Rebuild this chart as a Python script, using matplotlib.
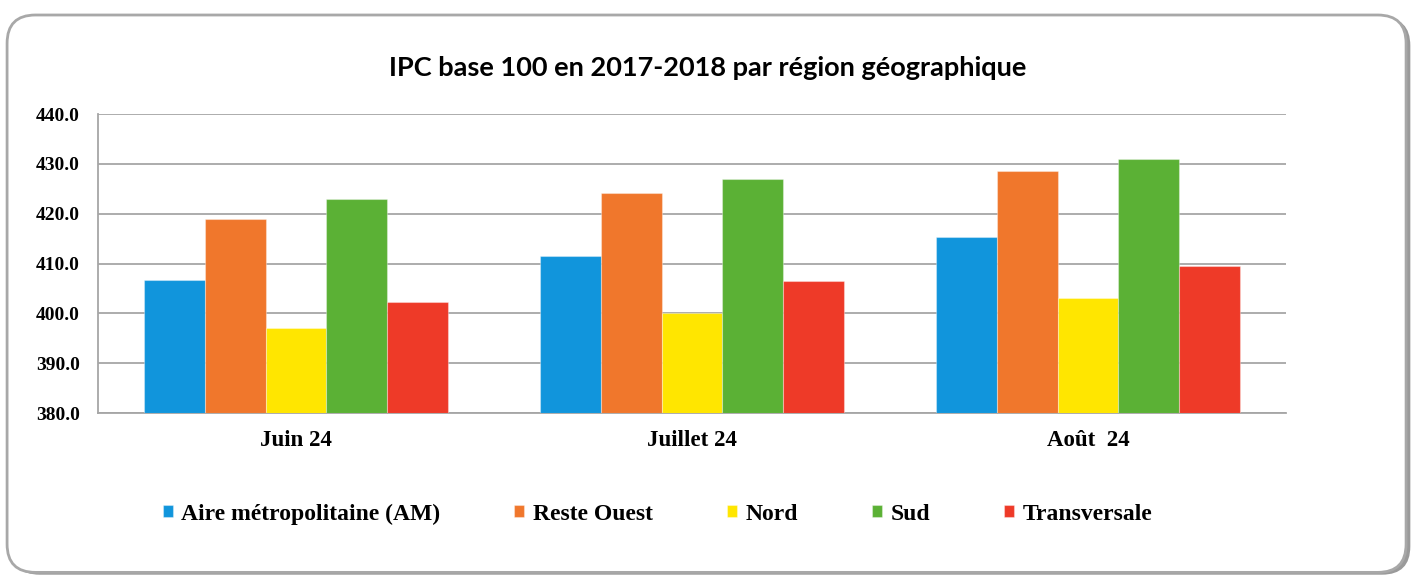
import matplotlib
matplotlib.use("Agg")
import matplotlib.pyplot as plt
import numpy as np
from matplotlib.patches import FancyBboxPatch

categories = ["Juin 24", "Juillet 24", "Août  24"]
series_names = ["Aire métropolitaine (AM)", "Reste Ouest", "Nord", "Sud", "Transversale"]
aire_metro = [406.7, 411.5, 415.3]
reste_ouest = [419.0, 424.2, 428.5]
nord = [397.0, 400.0, 403.0]
sud = [422.9, 427.0, 430.9]
transversale = [402.2, 406.4, 409.5]
yticks = [380.0, 390.0, 400.0, 410.0, 420.0, 430.0, 440.0]

series = [aire_metro, reste_ouest, nord, sud, transversale]
colors = ["#1195DC", "#F0772C", "#FFE600", "#5BB135", "#EE3A28"]

fig = plt.figure(figsize=(14.16, 5.77), dpi=100)

# rounded frame with shadow
shadow = FancyBboxPatch((0.008, 0.004), 0.988, 0.966, boxstyle="round,pad=0,rounding_size=0.02",
                        transform=fig.transFigure, facecolor="#9a9a9a", edgecolor="none",
                        mutation_aspect=1416/577, zorder=-2)
frame = FancyBboxPatch((0.005, 0.008), 0.988, 0.966, boxstyle="round,pad=0,rounding_size=0.02",
                       transform=fig.transFigure, facecolor="white", edgecolor="#a8a8a8",
                       linewidth=2.0, mutation_aspect=1416/577, zorder=-1)
fig.patches.extend([shadow, frame])

ax = fig.add_axes([0.0692, 0.2842, 0.8390, 0.5182])
ax.set_facecolor("none")

x = np.arange(len(categories))
w = 0.1535
handles = []
for i, (vals, c, name) in enumerate(zip(series, colors, series_names)):
    b = ax.bar(x + (i - 2) * w, np.array(vals) - 380.0, width=w, bottom=380.0, color=c,
               edgecolor=(1, 1, 1, 0.35), linewidth=0.8, label=name, zorder=3)
    handles.append(b)

ax.set_xlim(-0.5, len(categories) - 0.5)
ax.set_ylim(380, 440)
ax.set_yticks(yticks)
ax.set_yticklabels([f"{v:.1f}" for v in yticks], fontfamily="Liberation Serif",
                   fontweight="bold", fontsize=14)
ax.set_xticks(x)
ax.set_xticklabels(categories, fontfamily="Liberation Serif", fontweight="bold", fontsize=16.5)
ax.tick_params(axis="both", length=0)
ax.tick_params(axis="y", pad=13)
ax.tick_params(axis="x", pad=12)
ax.grid(axis="y", color="#A6A6A6", linewidth=1.3, zorder=1)
for s in ["top", "right"]:
    ax.spines[s].set_visible(False)
for s in ["left", "bottom"]:
    ax.spines[s].set_color("#A6A6A6")
    ax.spines[s].set_linewidth(1.3)

fig.text(0.5, 0.882, "IPC base 100 en 2017-2018 par région géographique",
         ha="center", va="center", fontfamily="Lato", fontweight="bold", fontsize=19.5)

leg = fig.legend(handles=handles, labels=series_names, loc="center", bbox_to_anchor=(0.4643, 0.109),
                 ncol=5, frameon=False, handlelength=0.42, handleheight=0.42, handletextpad=0.35,
                 columnspacing=3.15, prop={"family": "Liberation Serif", "weight": "bold", "size": 17})

fig.savefig("out.png", dpi=100)
